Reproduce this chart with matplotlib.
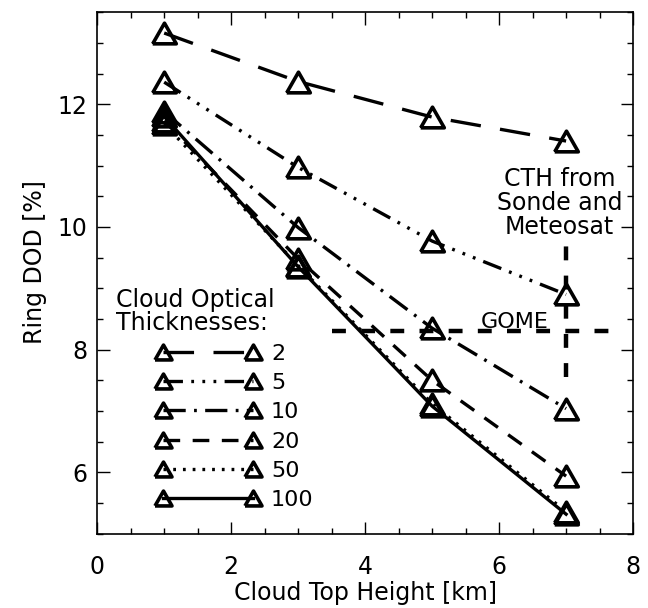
import matplotlib
matplotlib.use("Agg")
import matplotlib.pyplot as plt
import numpy as np

plt.rcParams["font.family"] = "DejaVu Sans"
plt.rcParams["lines.scale_dashes"] = False

# cloud top heights [km] and Ring DOD [%] for each cloud optical thickness
cth = [1, 3, 5, 7]
cod_labels = ["2", "5", "10", "20", "50", "100"]
dod_cod2 = [13.16, 12.37, 11.79, 11.40]
dod_cod5 = [12.36, 10.97, 9.77, 8.90]
dod_cod10 = [11.88, 9.99, 8.35, 7.04]
dod_cod20 = [11.73, 9.48, 7.50, 5.94]
dod_cod50 = [11.68, 9.37, 7.12, 5.36]
dod_cod100 = [11.80, 9.35, 7.08, 5.32]

# GOME retrieval (horizontal) and sonde/Meteosat CTH (vertical)
gome_dod = 8.3
gome_x = [3.5, 7.8]
sonde_cth = 7.0
sonde_y = [7.55, 9.8]

series = [dod_cod2, dod_cod5, dod_cod10, dod_cod20, dod_cod50, dod_cod100]
styles = [
    (0, (22, 14)),
    (0, (14, 6, 2, 6, 2, 6, 2, 6)),
    (0, (16, 6, 2, 6)),
    (0, (12, 9)),
    (0, (2, 5)),
    "-",
]

tri = [(-1, -0.875), (0, 0.875), (1, -0.875), (-1, -0.875)]

fig = plt.figure(figsize=(6.48, 6.08), dpi=100)
ax = fig.add_axes([0.150, 0.122, 0.827, 0.858])

for vals, ls, lab in zip(series, styles, cod_labels):
    ax.plot(cth, vals, color="black", linestyle=ls, lw=2.4,
            marker=tri, ms=17, mfc="none", mec="black", mew=2.6,
            label=lab)

ax.plot(gome_x, [gome_dod, gome_dod], color="black", lw=3.2,
        linestyle=(0, (10, 11)))
ax.plot([sonde_cth, sonde_cth], sonde_y, color="black", lw=3.2,
        linestyle=(0, (10, 11)))

ax.text(5.72, 8.36, "GOME", fontsize=16, ha="left", va="baseline")
ax.text(6.9, 10.98, "CTH from\nSonde and\nMeteosat", fontsize=17,
        ha="center", va="top", linespacing=1.0)
ax.text(0.28, 9.0, "Cloud Optical\nThicknesses:", fontsize=17,
        ha="left", va="top", linespacing=0.95)

leg = ax.legend(loc="upper left", bbox_to_anchor=(0.09, 0.386),
                frameon=False, numpoints=2, handlelength=4.65,
                handletextpad=0.5, labelspacing=0.42, fontsize=16,
                markerscale=0.72, borderpad=0.0)

ax.set_xlim(0, 8)
ax.set_ylim(5, 13.5)
ax.set_xticks([0, 2, 4, 6, 8])
ax.set_yticks([6, 8, 10, 12])
ax.set_xticks(np.arange(0, 8.01, 0.5), minor=True)
ax.set_yticks(np.arange(5, 13.51, 0.5), minor=True)
ax.tick_params(which="both", direction="in", top=True, right=True,
               width=1, labelsize=17)
ax.tick_params(axis="x", which="both", pad=15)
ax.tick_params(axis="y", which="both", pad=7)
ax.tick_params(which="major", length=9)
ax.tick_params(which="minor", length=4.5)
for s in ax.spines.values():
    s.set_linewidth(1.2)

ax.set_xlabel("Cloud Top Height [km]", fontsize=17, labelpad=2)
ax.set_ylabel("Ring DOD [%]", fontsize=17)
ax.yaxis.set_label_coords(-0.093, 0.52)

fig.savefig("out.png", dpi=100)
